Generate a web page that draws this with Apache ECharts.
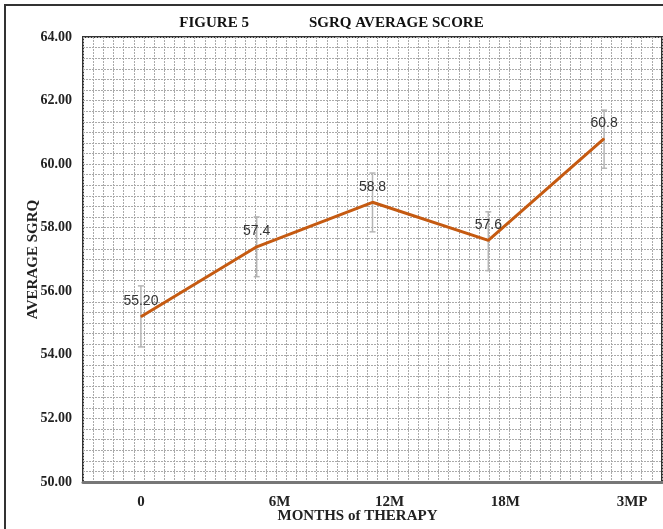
<!DOCTYPE html>
<html>
<head>
<meta charset="utf-8">
<script src="https://cdn.jsdelivr.net/npm/echarts@6/dist/echarts.min.js"></script>
<style>html,body{margin:0;padding:0;background:#fff}#c{width:663px;height:529px}</style>
</head>
<body>
<div id="c"></div>
<script>
// ---- data ----
const categories = ['0', '6M', '12M', '18M', '3MP'];
const avgScore = [55.2, 57.4, 58.8, 57.6, 60.8];
const valueLabels = ['55.20', '57.4', '58.8', '57.6', '60.8'];
const errLow = [54.25, 56.46, 57.87, 56.65, 59.87];
const errHigh = [56.17, 58.34, 59.72, 58.5, 61.7];
const yTickMin = 50, yTickMax = 64, yTickStep = 2;

// ---- presentation ----
const labelShift = [0, 23, 17, 17, 28]; // visual offset of category labels in the original
const serif = '"Liberation Serif", "DejaVu Serif", serif';

const rich = {};
labelShift.forEach((s, i) => {
  rich['s' + i] = { padding: [0, 0, 0, 2 * s], fontFamily: serif, fontWeight: 'bold', fontSize: 15, color: '#222' };
});

const gridLine = { color: '#aaa', type: [2, 1], width: 1 };

const chart = echarts.init(document.getElementById('c'));
chart.setOption({
  animation: false,
  backgroundColor: '#fff',
  graphic: [{
    type: 'rect', shape: { x: 5, y: 5, width: 700, height: 600 },
    style: { fill: 'none', stroke: '#333', lineWidth: 2 }, z: 100
  }],
  title: {
    text: '{a|FIGURE 5}{b|SGRQ AVERAGE SCORE}',
    left: 'center', top: 11,
    textStyle: {
      rich: {
        a: { fontFamily: serif, fontWeight: 'bold', fontSize: 15, color: '#111' },
        b: { fontFamily: serif, fontWeight: 'bold', fontSize: 15, color: '#111', padding: [0, 0, 0, 60] }
      }
    }
  },
  grid: { left: 83, right: 1, top: 37, bottom: 45, show: true, borderColor: '#333', borderWidth: 2, backgroundColor: '#fff' },
  xAxis: [{
    type: 'category', data: categories, boundaryGap: true,
    axisLine: { show: true, lineStyle: { color: '#777', width: 3 } },
    axisTick: { show: false },
    splitLine: { show: false },
    axisLabel: {
      margin: 13,
      formatter: (v, i) => '{s' + i + '|' + v + '}',
      rich: rich
    },
    name: 'MONTHS of THERAPY', nameLocation: 'middle', nameGap: 27, nameMoveOverlap: false,
    nameTextStyle: { fontFamily: serif, fontWeight: 'bold', fontSize: 15, color: '#222', padding: [0, 30, 0, 0] }
  }, {
    type: 'value', min: 0, max: 57, interval: 1, show: true,
    axisLine: { show: false }, axisTick: { show: false }, axisLabel: { show: false },
    splitLine: { show: true, lineStyle: gridLine }
  }],
  yAxis: {
    type: 'value', min: yTickMin, max: yTickMax, interval: yTickStep,
    axisLine: { show: false }, axisTick: { show: false },
    axisLabel: {
      margin: 11, formatter: v => v.toFixed(2),
      fontFamily: serif, fontWeight: 'bold', fontSize: 14, color: '#222'
    },
    splitLine: { show: true, lineStyle: gridLine },
    minorTick: { show: false, splitNumber: 6 },
    minorSplitLine: { show: true, lineStyle: gridLine },
    name: 'AVERAGE SGRQ', nameLocation: 'middle', nameGap: 42, nameRotate: 90, nameMoveOverlap: false,
    nameTextStyle: { fontFamily: serif, fontWeight: 'bold', fontSize: 15, color: '#222' }
  },
  series: [{
    type: 'custom',
    xAxisIndex: 0,
    data: categories.map((c, i) => [i, errLow[i], errHigh[i]]),
    renderItem: (params, api) => {
      const lo = api.coord([api.value(0), api.value(1)]);
      const hi = api.coord([api.value(0), api.value(2)]);
      const w = 3;
      const st = { stroke: '#b5b5b5', lineWidth: 1.5 };
      return {
        type: 'group', children: [
          { type: 'line', shape: { x1: lo[0], y1: lo[1], x2: hi[0], y2: hi[1] }, style: st },
          { type: 'line', shape: { x1: lo[0] - w, y1: lo[1], x2: lo[0] + w, y2: lo[1] }, style: st },
          { type: 'line', shape: { x1: hi[0] - w, y1: hi[1], x2: hi[0] + w, y2: hi[1] }, style: st }
        ]
      };
    },
    z: 3
  }, {
    type: 'line',
    xAxisIndex: 0,
    data: avgScore,
    showSymbol: true, symbol: 'circle', symbolSize: 1,
    itemStyle: { color: '#c55a11' },
    lineStyle: { color: '#c55a11', width: 3 },
    label: {
      show: true, position: 'top', distance: 8,
      formatter: p => valueLabels[p.dataIndex],
      fontFamily: 'Arial, "Liberation Sans", sans-serif', fontSize: 14, color: '#333'
    },
    labelLayout: { hideOverlap: false },
    z: 5
  }]
});
</script>
</body>
</html>
